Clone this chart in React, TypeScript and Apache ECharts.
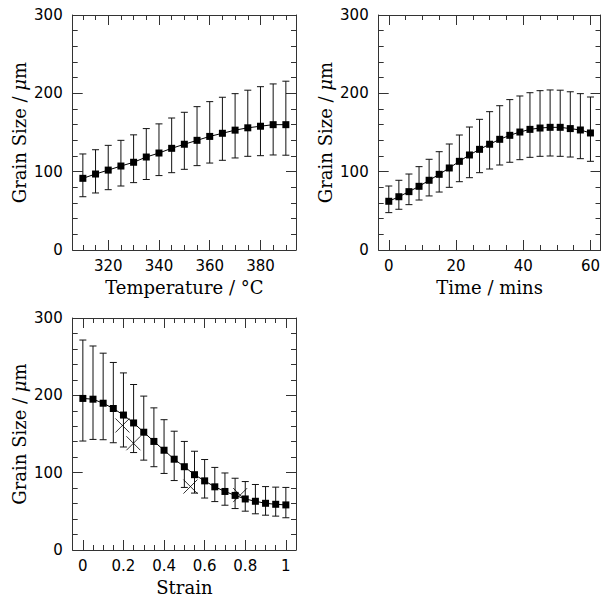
import React, { useEffect, useRef } from "react";
import * as echarts from "echarts";

// ---- Data ----
const tempX = [310, 315, 320, 325, 330, 335, 340, 345, 350, 355, 360, 365, 370, 375, 380, 385, 390];
const tempY = [91.5, 97, 102, 107.2, 112, 118.7, 123.8, 129.8, 135, 140, 145, 149, 153, 156, 158, 160, 160];
const tempLo = [68, 72.8, 77, 81.7, 86, 90, 95, 98.7, 103, 107.7, 111, 114.5, 117.5, 119.6, 120.4, 121.3, 121];
const tempHi = [122.6, 128, 133.6, 140, 147, 155, 161, 168.5, 175.8, 183, 189.4, 195, 199.6, 204, 208.5, 212, 215.5];

const timeX = [0, 3, 6, 9, 12, 15, 18, 21, 24, 27, 30, 33, 36, 39, 42, 45, 48, 51, 54, 57, 60];
const timeY = [62.2, 68, 74.5, 81.3, 89, 96.6, 104.7, 113.2, 121.3, 128.5, 135, 141.3, 146.4, 150.6, 154, 155.7, 156.6, 156.6, 155, 153.2, 149.4];
const timeLo = [47.7, 52, 57.9, 63.8, 69, 74, 80, 87.2, 92.3, 98.7, 103.4, 108.5, 112, 115.3, 118.3, 119.6, 120, 119.6, 118.7, 116.6, 113.2];
const timeHi = [81.7, 89, 97, 106.4, 115.8, 125.5, 135.3, 146.8, 157, 166.8, 176.6, 184.2, 192, 196.6, 200.8, 203.4, 204.3, 204, 202, 199.6, 195.3];

const strainX = [0, 0.05, 0.1, 0.15, 0.2, 0.25, 0.3, 0.35, 0.4, 0.45, 0.5, 0.55, 0.6, 0.65, 0.7, 0.75, 0.8, 0.85, 0.9, 0.95, 1];
const strainY = [196, 195, 189.8, 183, 174.5, 164.3, 152.3, 140.4, 129, 117.4, 107.7, 97.4, 89.4, 81.7, 75.7, 70.6, 66, 63, 60.4, 59.1, 58.3];
const strainLo = [140.9, 143, 142.6, 138.7, 133.2, 126, 116.2, 107.7, 99, 89.8, 80.9, 73.6, 67.2, 62.6, 57.9, 53.6, 50.2, 46.8, 45, 43.8, 41.7];
const strainHi = [271.5, 263.8, 254.5, 242.5, 229, 214, 199, 183.8, 168.5, 153.6, 140.4, 127.7, 117, 106.8, 99.6, 92.8, 88.5, 84.7, 82, 81.3, 80.9];

const crossX = [0.195, 0.249, 0.53, 0.775];
const crossY = [161, 138, 82, 71];

// tick labels / ranges
const tempTicks = [320, 340, 360, 380];
const timeTicks = [0, 20, 40, 60];
const strainTicks = [0, 0.2, 0.4, 0.6, 0.8, 1];

const stepTicks = (a: number, b: number, s: number) => {
  const out: number[] = [];
  const n = Math.round((b - a) / s);
  for (let i = 0; i <= n; i++) out.push(+(a + i * s).toFixed(6));
  return out;
};

const panels = [
  { x: tempX, y: tempY, lo: tempLo, hi: tempHi, min: 306, max: 394, ticks: tempTicks, minor: stepTicks(310, 390, 5), name: "Temperature / °C", grid: { left: 72.7, top: 15, width: 223.3, height: 235 } },
  { x: timeX, y: timeY, lo: timeLo, hi: timeHi, min: -3, max: 63, ticks: timeTicks, minor: stepTicks(0, 60, 5), name: "Time / mins", grid: { left: 378.7, top: 15, width: 223.3, height: 235 } },
  { x: strainX, y: strainY, lo: strainLo, hi: strainHi, min: -0.05, max: 1.05, ticks: strainTicks, minor: stepTicks(0, 1, 0.05), name: "Strain", grid: { left: 72.7, top: 318, width: 223.3, height: 235 } },
];

const INK = "#000";
const FRAME = "#333";
const labelFont = { fontFamily: "DejaVu Sans", fontSize: 15, color: "#000", fontWeight: "normal" };
const titleFont = { fontFamily: "DejaVu Serif", fontSize: 18, color: "#000", fontWeight: "normal" };

export default function App() {
  const ref = useRef<HTMLDivElement>(null);
  useEffect(() => {
    if (!ref.current) return;
    const chart = echarts.init(ref.current, null, { renderer: "svg" });
    const xAxis: any[] = [];
    const yAxis: any[] = [];
    const series: any[] = [];
    panels.forEach((p, gi) => {
      const base = { type: "value", gridIndex: gi, min: p.min, max: p.max, splitLine: { show: false } };
      const line = { show: true, onZero: false, lineStyle: { color: FRAME, width: 1 } };
      xAxis.push({
        ...base, position: "bottom",
        axisLine: line,
        axisTick: { show: true, inside: true, length: 10, customValues: p.ticks, lineStyle: { color: FRAME } },
        axisLabel: { show: true, customValues: p.ticks, margin: 8, ...labelFont },
        name: p.name, nameLocation: "middle", nameGap: 28, nameTextStyle: titleFont,
      });
      xAxis.push({
        ...base, position: "bottom",
        axisLine: { show: false, onZero: false },
        axisTick: { show: true, inside: true, length: 5, customValues: p.minor, lineStyle: { color: FRAME } },
        axisLabel: { show: false },
      });
      xAxis.push({
        ...base, position: "top",
        axisLine: line,
        axisTick: { show: true, inside: true, length: 10, customValues: p.ticks, lineStyle: { color: FRAME } },
        axisLabel: { show: false },
      });
      xAxis.push({
        ...base, position: "top",
        axisLine: { show: false, onZero: false },
        axisTick: { show: true, inside: true, length: 5, customValues: p.minor, lineStyle: { color: FRAME } },
        axisLabel: { show: false },
      });
      const ybase = {
        type: "value", gridIndex: gi, min: 0, max: 300, interval: 100, splitLine: { show: false },
        axisLine: line,
        axisTick: { show: true, inside: true, length: 10, lineStyle: { color: FRAME } },
        minorTick: { show: true, splitNumber: 5, length: 5, lineStyle: { color: FRAME } },
      };
      yAxis.push({
        ...ybase, position: "left",
        axisLabel: { show: true, margin: 10, ...labelFont },
        name: "Grain Size / {i|μ}m", nameLocation: "middle", nameGap: 44,
        nameTextStyle: { ...titleFont, rich: { i: { ...titleFont, fontStyle: "italic" } } },
      });
      yAxis.push({ ...ybase, position: "right", axisLabel: { show: false } });

      series.push({
        type: "custom",
        xAxisIndex: gi * 4, yAxisIndex: gi * 2,
        data: p.x.map((v, i) => [v, p.lo[i], p.hi[i]]),
        encode: { x: 0, y: [1, 2] },
        renderItem: (params: any, api: any) => {
          const x = api.value(0);
          const a = api.coord([x, api.value(1)]);
          const b = api.coord([x, api.value(2)]);
          const w = 3.5;
          const st = { stroke: "#111", lineWidth: 1 };
          return {
            type: "group",
            children: [
              { type: "line", shape: { x1: a[0], y1: a[1], x2: b[0], y2: b[1] }, style: st },
              { type: "line", shape: { x1: a[0] - w, y1: a[1], x2: a[0] + w, y2: a[1] }, style: st },
              { type: "line", shape: { x1: b[0] - w, y1: b[1], x2: b[0] + w, y2: b[1] }, style: st },
            ],
          };
        },
        z: 2,
      });
      series.push({
        type: "line",
        xAxisIndex: gi * 4, yAxisIndex: gi * 2,
        data: p.x.map((v, i) => [v, p.y[i]]),
        symbol: "rect", symbolSize: 7, showSymbol: true,
        lineStyle: { color: INK, width: 1 },
        itemStyle: { color: INK },
        z: 3,
      });
    });
    series.push({
      type: "scatter",
      xAxisIndex: 8, yAxisIndex: 4,
      data: crossX.map((v, i) => [v, crossY[i]]),
      symbol: "path://M0,0L10,10M10,0L0,10",
      symbolSize: 14,
      itemStyle: { color: "none", borderColor: INK, borderWidth: 1 },
      z: 4,
    });

    chart.setOption({
      animation: false,
      backgroundColor: "#fff",
      grid: panels.map((p) => ({ ...p.grid, containLabel: false })),
      xAxis, yAxis, series,
    });
    return () => chart.dispose();
  }, []);
  return <div ref={ref} style={{ position: "absolute", left: 0, top: 0, width: 603, height: 597 }} />;
}
